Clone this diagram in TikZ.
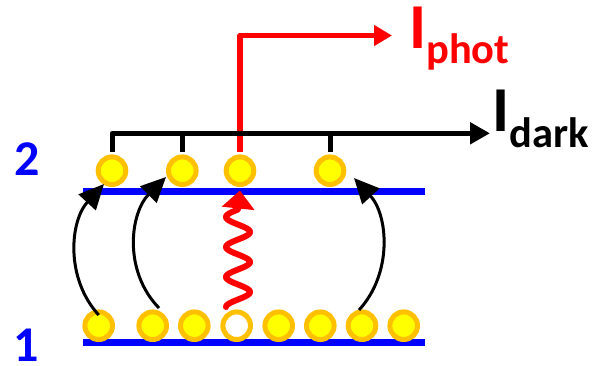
\documentclass[tikz,border=0pt]{standalone}
\usepackage{fontspec}
\setmainfont{Carlito}
\usetikzlibrary{arrows.meta,calc}
\definecolor{elecfill}{RGB}{255,255,0}
\definecolor{elecring}{RGB}{255,192,0}
\definecolor{lvblue}{RGB}{0,0,255}
\definecolor{photred}{RGB}{255,0,0}

\begin{document}
\begin{tikzpicture}[x=1pt,y=-1pt,
  elec/.style={circle,draw=elecring,fill=elecfill,line width=5pt,
               minimum size=27.6pt,inner sep=0pt},
  hole/.style={elec,fill=white},
  level/.style={draw=lvblue,line width=6.5pt},
  hop/.style={draw=black,line width=3pt,-{Triangle[length=25pt,width=23pt]}},
  wire/.style={line width=5pt,line join=round},
  lvlabel/.style={text=lvblue,font=\fontsize{50}{50}\selectfont\bfseries,
                  inner sep=0pt,anchor=base west},
  curlabel/.style={font=\bfseries,inner sep=0pt,anchor=base west},
]
\useasboundingbox (0,0) rectangle (596,365);

% energy levels
\draw[level] (83,191.5) -- (425,191.5);
\draw[level] (83,342.5) -- (425,342.5);
\node[lvlabel] (n2) at (14,175) {2};
\node[lvlabel] (n1) at (13.5,361) {1};

% electrons on level 2
\node[elec] (u1) at (112,170.7) {};
\node[elec] (u2) at (182.3,170.7) {};
\node[elec] (u3) at (240,170.7) {};
\node[elec] (u4) at (330,170.7) {};

% electrons on level 1, with the photo-generated hole
\node[elec] (l1) at (98.7,325.7) {};
\node[elec] (l2) at (152.7,325.7) {};
\node[elec] (l3) at (194.3,325.7) {};
\node[hole] (l4) at (236.7,325.7) {};
\node[elec] (l5) at (278.7,325.7) {};
\node[elec] (l6) at (320.3,325.7) {};
\node[elec] (l7) at (362,325.7) {};
\node[elec] (l8) at (403.7,325.7) {};

% photocurrent output
\coordinate (phtip) at (392,35.5);
\draw[wire,photred,line width=5.5pt,shorten <=2.5pt,
      -{Triangle[length=18pt,width=20pt]}]
  (u3.north) -- (u3.north |- phtip) -- (phtip);

% dark current collector
\coordinate (dktip) at (490,133.3);
\draw[wire,shorten <=2.5pt,-{Triangle[length=20pt,width=21pt]}]
  (u1.north) -- (u1.north |- dktip) -- (dktip);
\draw[wire,shorten <=2.5pt] (u2.north) -- (u2.north |- dktip);
\draw[wire,shorten <=2.5pt] (u4.north) -- (u4.north |- dktip);

% thermal hops from level 1 to level 2
\draw[hop] ($(l1.center)+(0,-10.7)$) .. controls (65,278) and (70,221) .. ($(u1.center)+(-8,13.3)$);
\draw[hop] ($(l2.center)+(6.3,-17.7)$) .. controls (123,271) and (130,213) .. ($(u2.center)+(-16.3,6.3)$);
\draw[hop] ($(l7.center)+(-3,-15.7)$) .. controls (393,273) and (388,215) .. ($(u4.center)+(24,7.3)$);

% photon absorption: wavy line, period 30pt, amplitude 12pt
\draw[photred,line width=6pt,line join=round,line cap=round,
      -{Triangle[length=18pt,width=32pt,line cap=butt]}]
  plot[variable=\t,domain=0:97.5,samples=140]
    ({238-12*cos(12*\t)},{307-\t})
  -- ($(u3.south)+(0,3.5)$);

% current labels
\node[curlabel,text=photred] (iphot) at (409,48.3)
  {\fontsize{64}{64}\selectfont I\lower15pt\hbox{\fontsize{42.5}{42.5}\selectfont phot}};
\node[curlabel,text=black] (idark) at (492.5,131.7)
  {\fontsize{64}{64}\selectfont I\lower16pt\hbox{\fontsize{42.5}{42.5}\selectfont dark}};
\end{tikzpicture}
\end{document}
